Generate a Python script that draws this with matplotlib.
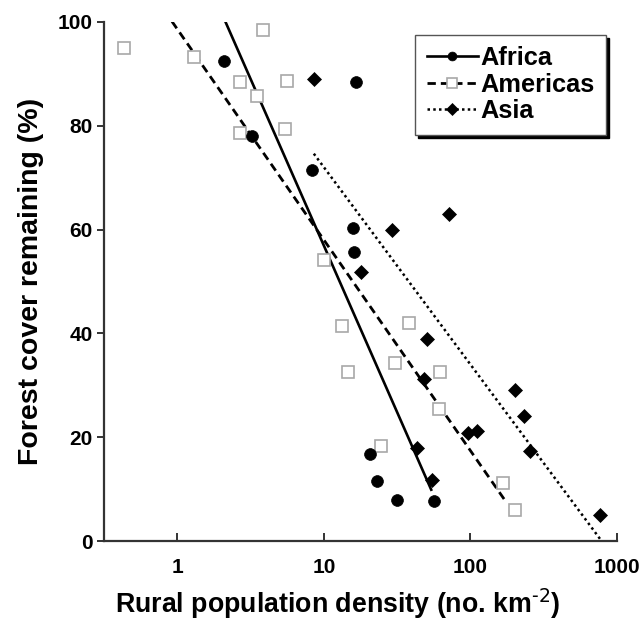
import numpy as np
import matplotlib
matplotlib.use("Agg")
import matplotlib.pyplot as plt
from matplotlib.lines import Line2D

plt.rcParams["font.family"] = ["Liberation Sans", "DejaVu Sans"]

# rural population density (no. km-2) and forest cover remaining (%)
africa_x = [2.07, 3.21, 16.6, 8.28, 15.8, 16.1, 20.6, 23.1, 31.6, 56.7]
africa_y = [92.5, 78.0, 88.4, 71.5, 60.3, 55.7, 16.8, 11.6, 7.9, 7.7]

americas_x = [0.43, 1.29, 3.82, 2.66, 5.58, 3.48, 2.66, 5.40, 10.0, 13.3,
              38.2, 14.6, 30.6, 62.3, 61.3, 24.6, 166, 200]
americas_y = [95.0, 93.3, 98.5, 88.4, 88.6, 85.7, 78.6, 79.4, 54.1, 41.4,
              42.0, 32.6, 34.3, 32.6, 25.4, 18.3, 11.2, 6.0]

asia_x = [8.54, 17.9, 29.2, 71.8, 50.8, 48.4, 43.4, 55.0, 96.9, 110,
          200, 231, 254, 765]
asia_y = [89.0, 51.8, 59.9, 63.0, 38.9, 31.2, 17.9, 11.8, 20.8, 21.2,
          29.1, 24.1, 17.3, 5.0]

# fitted lines: y = a + b*log10(x), drawn over [x0, x1]
africa_fit = (121.1, -64.2, 2.13, 54.0)
americas_fit = (98.6, -40.6, 0.92, 171.0)
asia_fit = (110.0, -38.0, 8.54, 789.0)

x_ticks = [1, 10, 100, 1000]
y_ticks = [0, 20, 40, 60, 80, 100]


def fit_line(fit):
    a, b, x0, x1 = fit
    xs = np.array([x0, x1])
    return xs, a + b * np.log10(xs)


fig = plt.figure(figsize=(6.44, 6.24), dpi=100)
ax = fig.add_axes([0.1615, 0.133, 0.7966, 0.832])

sq = "#a8a8a8"
styles = {
    "Africa": dict(ls="-", lw=1.9, marker="o", ms=8.5, mfc="black", mec="black", mew=0.5),
    "Americas": dict(ls=(0, (3, 1.8)), lw=2.0, marker="s", ms=9, mfc="white", mec=sq, mew=1.2),
    "Asia": dict(ls=(0, (1, 1.3)), lw=1.8, marker="D", ms=7.5, mfc="black", mec="black", mew=0.5),
}

for name, xs, ys, fit in [("Americas", americas_x, americas_y, americas_fit),
                          ("Africa", africa_x, africa_y, africa_fit),
                          ("Asia", asia_x, asia_y, asia_fit)]:
    st = styles[name]
    ax.plot(xs, ys, ls="none", marker=st["marker"], ms=st["ms"], mfc=st["mfc"],
            mec=st["mec"], mew=st["mew"], zorder=3)
    lx, ly = fit_line(fit)
    ax.plot(lx, ly, color="black", ls=st["ls"], lw=st["lw"], zorder=2)

ax.set_xscale("log")
ax.set_xlim(10 ** -0.5, 1000)
ax.set_ylim(0, 100)
ax.set_xticks(x_ticks)
ax.set_xticklabels([str(t) for t in x_ticks])
ax.xaxis.set_minor_locator(matplotlib.ticker.NullLocator())
ax.set_yticks(y_ticks)
ax.set_yticklabels([str(t) for t in y_ticks])

for s in ("top", "right"):
    ax.spines[s].set_visible(False)
for s in ("left", "bottom"):
    ax.spines[s].set_color("#333333")
    ax.spines[s].set_linewidth(1.6)

ax.tick_params(axis="x", direction="in", length=6, width=1.4, pad=12,
               labelsize=15, color="#333333")
ax.tick_params(axis="y", direction="out", length=5, width=1.4, pad=3,
               labelsize=15, color="#333333")
for lab in ax.get_xticklabels() + ax.get_yticklabels():
    lab.set_fontweight("bold")

ax.set_xlabel("Rural population density (no. km$^{\\text{-2}}$)", fontsize=19.3,
              fontweight="bold")
ax.xaxis.set_label_coords(0.456, -0.088)
ax.set_ylabel("Forest cover remaining (%)", fontsize=20.5, fontweight="bold")
ax.yaxis.set_label_coords(-0.117, 0.5)

handles = [Line2D([0], [0], color="black", **{k: v for k, v in styles[n].items()}, label=n)
           for n in ("Africa", "Americas", "Asia")]
for h in handles:
    h.set_markersize(h.get_markersize() * 0.75)
leg = ax.legend(handles=handles, loc="upper left", bbox_to_anchor=(0.607, 0.975),
                prop={"weight": "bold", "size": 18.3}, frameon=True,
                fancybox=False, shadow={"color": "black", "alpha": 1.0},
                handlelength=2.0, handletextpad=0.12, labelspacing=0.1,
                borderpad=0.45, borderaxespad=0)
leg.get_frame().set_edgecolor("#555555")
leg.get_frame().set_linewidth(1.0)

fig.savefig("out.png", dpi=100)
